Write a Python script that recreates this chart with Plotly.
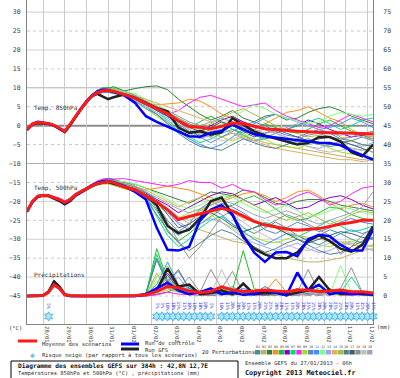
import plotly.graph_objects as go
import pandas as pd

# ---------------- DATA ----------------
BASE_RUN = "2013-01-27 06:00"
FORECAST_HOURS = [0, 6, 12, 18, 24, 30, 36, 42, 48, 54, 60, 66, 72, 78, 84, 90, 96,
                  108, 120, 132, 144, 156, 168, 180, 192, 204, 216, 228, 240, 252, 264,
                  276, 288, 300, 312, 324, 336, 348, 360, 372, 384]

DATE_TICKS = ["2013-01-28", "2013-01-29", "2013-01-30", "2013-01-31", "2013-02-01",
              "2013-02-02", "2013-02-03", "2013-02-04", "2013-02-05", "2013-02-06",
              "2013-02-07", "2013-02-08", "2013-02-09", "2013-02-10", "2013-02-11",
              "2013-02-12"]
DATE_LABELS = ["28/01", "29/01", "30/01", "31/01", "01/02", "02/02", "03/02", "04/02",
               "05/02", "06/02", "07/02", "08/02", "09/02", "10/02", "11/02", "12/02"]

TEMP_TICKS = [-45, -40, -35, -30, -25, -20, -15, -10, -5, 0, 5, 10, 15, 20, 25, 30]
MM_TICKS = [0, 5, 10, 15, 20, 25, 30, 35, 40, 45, 50, 55, 60, 65, 70, 75]

# Mean / control / GFS - temperature 850 hPa (degC)
T850_MEAN = [-1.0, 0.4, 0.9, 0.8, 0.6, 0.1, -0.7, -1.5, 0.4, 2.6, 4.5, 6.3, 7.8, 8.7, 9.2, 9.3, 9.1,
             8.2, 7.2, 5.8, 4.6, 3.2, 1.3, -0.2, -0.4, -0.8, -0.2, 0.7, 0.5, -0.2, -0.8, -1.0,
             -1.3, -1.5, -1.6, -1.8, -1.9, -1.9, -2.0, -2.0, -2.2]
T850_CONTROL = [-1.0, 0.5, 1.0, 0.8, 0.5, 0.0, -0.8, -1.6, 0.3, 2.5, 4.6, 6.5, 8.0, 9.0, 9.5, 9.4, 9.0,
                8.0, 6.0, 2.5, 1.0, -0.3, -1.5, -2.8, -2.9, -1.9, -1.4, 0.3, -1.0, -2.2, -2.8, -3.1,
                -3.4, -3.8, -4.1, -4.5, -4.6, -5.2, -6.6, -7.8, -9.0]
T850_GFS = [-1.2, 0.3, 0.6, 0.6, 0.5, 0.0, -0.9, -1.7, 0.2, 2.4, 4.3, 6.2, 7.8, 8.4, 7.6, 7.0, 7.5,
            8.2, 7.3, 6.0, 4.6, 3.8, -0.5, -1.9, -1.5, -2.4, -1.8, 2.0, 0.3, -1.5, -2.6, -3.4,
            -4.2, -5.0, -4.6, -3.0, -3.0, -4.2, -7.0, -8.1, -5.0]

# Temperature 500 hPa (degC)
T500_MEAN = [-22.6, -20.0, -18.6, -18.4, -18.5, -18.9, -19.5, -20.3, -19.5, -18.2, -17.4, -16.6, -15.9,
             -15.3, -14.9, -14.7, -15.0,
             -16.2, -17.0, -18.5, -20.2, -22.2, -24.8, -24.0, -23.3, -22.6, -21.8, -22.5, -24.0,
             -25.3, -26.2, -26.8, -27.3, -27.6, -27.5, -27.2, -26.6, -26.0, -25.6, -25.0, -25.0]
T500_CONTROL = [-22.6, -20.1, -18.7, -18.4, -18.5, -19.0, -19.6, -20.5, -19.6, -18.3, -17.4, -16.6, -15.8,
                -15.1, -14.7, -14.6, -14.9,
                -16.0, -17.5, -19.5, -27.0, -32.8, -33.0, -32.0, -25.0, -22.2, -21.0, -23.5, -29.0,
                -33.5, -36.0, -33.5, -33.4, -34.5, -30.0, -28.8, -29.2, -31.5, -33.0, -33.0, -27.5]
T500_GFS = [-22.8, -20.2, -18.8, -18.5, -18.6, -19.2, -19.9, -20.8, -19.9, -18.5, -17.6, -16.8, -16.0,
            -15.4, -15.0, -14.9, -15.3,
            -16.3, -17.0, -18.5, -21.0, -26.5, -28.4, -27.5, -24.5, -20.0, -19.0, -23.5, -29.5,
            -32.5, -34.0, -35.0, -35.0, -33.5, -30.5, -29.0, -30.5, -32.5, -33.3, -31.5, -26.6]

# Precipitation (mm)
PRECIP_MEAN = [0, 0, 0, 0.1, 1.0, 3.0, 2.0, 0.3, 0.1, 0, 0, 0, 0, 0, 0, 0, 0,
               0, 0.1, 0.3, 1.2, 2.5, 2.2, 1.3, 0.9, 1.2, 2.4, 1.6, 1.2, 1.3, 1.6, 1.3, 1.1,
               1.6, 1.6, 1.2, 1.3, 1.6, 1.1, 1.1, 0.8]
PRECIP_CONTROL = [0, 0, 0, 0.1, 1.0, 3.2, 2.0, 0.3, 0, 0, 0, 0, 0, 0, 0, 0, 0,
                  0, 0, 0.5, 2.0, 3.5, 1.5, 0.5, 1.0, 2.0, 0.5, 1.0, 0.3, 0.5, 1.5, 0.8, 0.2,
                  6.2, 1.5, 3.0, 0.5, 1.0, 0.5, 0.8, 0.3]
PRECIP_GFS = [0, 0, 0, 0.2, 1.2, 3.8, 2.5, 0.4, 0, 0, 0, 0, 0, 0, 0, 0, 0,
              0, 0, 0.3, 1.5, 7.3, 2.5, 3.0, 0.5, 0.8, 1.5, 0.5, 3.3, 0.5, 0.8, 1.0, 0.3,
              1.0, 1.5, 5.0, 1.5, 0.5, 0.8, 0.5, 0.3]

# 20 perturbations
T850_PERTURBATIONS = [
    [-1.0, 0.5, 1.0, 0.9, 0.5, 0.0, -0.8, -1.6, 0.2, 2.4, 4.4, 6.5, 8.1, 9.2, 9.8, 9.6, 9.0,
     8.5, 7.5, 6.0, 4.0, 2.5, 0.5, -1.5, -2.5, -3.0, -1.0, 0.5, -1.5, -2.5, -3.5, -3.0, -4.0, -4.5, -4.0, -5.0, -5.5, -5.0, -6.0, -6.5, -6.0],
    [-1.0, 0.3, 0.8, 0.7, 0.6, 0.2, -0.6, -1.3, 0.6, 2.8, 4.7, 6.2, 7.5, 8.4, 8.9, 9.0, 8.6,
     8.0, 7.0, 5.5, 4.5, 3.0, 1.5, 0.5, -1.0, -2.0, -3.0, -2.0, -2.5, -3.5, -4.5, -5.0, -5.5, -6.0, -6.5, -7.0, -7.5, -8.0, -8.5, -9.0, -8.5],
    [-1.0, 0.4, 0.9, 0.9, 0.7, 0.2, -0.5, -1.4, 0.5, 2.7, 4.6, 6.4, 7.9, 8.9, 9.5, 9.9, 10.3,
     9.2, 9.8, 10.3, 10.5, 9.5, 7.0, 5.0, 3.0, 1.5, 2.5, 4.0, 2.0, 1.0, 2.5, 3.0, 1.5, 2.0, 3.5, 4.5, 5.0, 4.0, 2.5, 1.5, 0.5],
    [-1.0, 0.4, 1.0, 0.8, 0.6, 0.1, -0.7, -1.5, 0.3, 2.5, 4.3, 6.0, 7.6, 8.6, 9.1, 9.0, 8.8,
     8.0, 7.0, 6.0, 5.5, 5.8, 6.0, 7.0, 6.5, 5.0, 3.0, 2.0, 1.0, -0.5, 0.5, 2.0, 3.5, 4.0, 5.0, 3.5, 2.0, 1.0, -1.0, -2.5, -3.0],
    [-1.0, 0.5, 0.9, 0.7, 0.5, 0.0, -0.9, -1.7, 0.2, 2.6, 4.6, 6.6, 8.2, 9.3, 9.9, 10.1, 9.9,
     9.0, 8.0, 6.5, 5.0, 3.5, 1.5, -0.5, 1.0, 2.5, 1.0, -1.0, -2.0, -1.0, 0.5, -0.5, -1.5, -2.0, -1.0, 0.5, 1.5, 0.0, -1.5, -2.5, -3.5],
    [-1.0, 0.3, 0.8, 0.8, 0.7, 0.3, -0.5, -1.2, 0.7, 2.9, 4.8, 6.5, 7.9, 8.8, 9.4, 9.5, 9.2,
     8.5, 7.5, 6.0, 4.5, 2.5, 0.0, -2.0, -1.5, 0.0, 1.5, 2.5, 1.0, 0.0, -1.0, -2.0, -1.0, 0.0, 1.5, 0.5, -1.0, -2.0, -3.0, -2.5, -2.0],
    [-1.0, 0.4, 0.9, 0.8, 0.6, 0.1, -0.6, -1.5, 0.4, 2.6, 4.4, 6.1, 7.6, 8.5, 9.0, 8.9, 8.5,
     8.0, 6.5, 5.0, 3.5, 1.5, -1.0, -3.0, -4.5, -3.5, -2.0, -1.0, -2.5, -4.0, -3.5, -2.0, -1.0, 0.0, 1.0, 2.0, 0.5, -1.0, 0.0, 1.5, 2.0],
    [-1.0, 0.5, 1.0, 0.9, 0.6, 0.0, -0.8, -1.6, 0.3, 2.5, 4.5, 6.4, 8.0, 9.1, 9.7, 9.8, 9.6,
     8.5, 7.5, 6.0, 4.0, 3.0, 4.0, 6.0, 7.5, 8.0, 7.0, 6.0, 5.0, 5.5, 6.0, 4.0, 2.5, 1.5, 0.5, -0.5, 0.0, 1.5, 3.0, 2.0, 1.0],
    [-1.0, 0.4, 0.8, 0.7, 0.5, 0.1, -0.7, -1.4, 0.5, 2.7, 4.5, 6.2, 7.7, 8.6, 9.0, 9.1, 8.9,
     7.8, 6.5, 4.5, 2.5, 0.5, -1.5, -3.0, -2.0, -1.5, -3.0, -4.0, -3.0, -2.0, -3.5, -5.0, -5.5, -6.0, -5.0, -4.5, -6.0, -7.0, -7.5, -8.0, -8.5],
    [-1.0, 0.3, 0.9, 0.8, 0.6, 0.2, -0.6, -1.4, 0.4, 2.6, 4.7, 6.6, 8.2, 9.4, 10.0, 9.8, 9.4,
     9.2, 8.0, 6.0, 4.5, 3.0, 1.0, -1.0, -3.0, -4.5, -3.0, -1.5, 0.0, 1.0, 0.0, -1.5, -2.5, -3.0, -2.0, -1.0, -2.0, -3.5, -4.0, -3.0, -4.0],
    [-1.0, 0.4, 0.9, 0.9, 0.7, 0.1, -0.7, -1.6, 0.3, 2.4, 4.3, 6.1, 7.5, 8.3, 8.7, 8.8, 8.5,
     8.0, 6.5, 4.5, 3.0, 1.0, -1.5, -3.5, -5.0, -6.0, -5.0, -3.0, -1.0, 0.5, 2.0, 3.0, 2.0, 1.0, 0.0, -1.0, -0.5, 0.5, 2.0, 1.0, -0.5],
    [-1.0, 0.5, 0.9, 0.8, 0.5, 0.0, -0.8, -1.5, 0.5, 2.8, 4.7, 6.4, 7.9, 8.9, 9.4, 9.5, 9.7,
     9.0, 8.5, 7.0, 5.5, 4.0, 2.5, 1.0, 0.0, -1.0, 0.5, 2.0, 4.0, 5.5, 4.5, 3.0, 2.0, 1.0, 0.5, 1.0, 2.5, 3.5, 3.0, 2.5, 3.0],
    [-1.0, 0.4, 1.0, 0.8, 0.6, 0.1, -0.7, -1.6, 0.3, 2.5, 4.4, 6.3, 7.8, 8.7, 9.1, 9.2, 9.0,
     8.3, 7.0, 5.5, 4.0, 2.0, 0.0, -2.0, -3.5, -2.5, -1.0, -2.0, -3.5, -4.0, -3.0, -2.0, -3.0, -4.5, -5.5, -6.0, -5.0, -4.0, -5.0, -5.5, -4.5],
    [-1.0, 0.3, 0.8, 0.8, 0.6, 0.2, -0.6, -1.3, 0.6, 2.7, 4.6, 6.3, 7.7, 8.5, 9.0, 9.2, 9.3,
     8.8, 8.0, 7.0, 6.0, 5.0, 4.0, 3.0, 2.0, 1.0, -0.5, -2.0, -3.0, -4.0, -5.0, -6.0, -6.5, -7.0, -7.5, -8.0, -8.5, -9.0, -9.0, -9.5, -9.0],
    [-1.0, 0.4, 0.9, 0.7, 0.5, 0.0, -0.8, -1.7, 0.2, 2.5, 4.5, 6.4, 8.0, 9.0, 9.6, 9.7, 9.5,
     8.5, 7.5, 6.5, 5.0, 3.5, 2.0, 0.0, -1.0, 0.5, 2.0, 3.5, 4.5, 3.0, 1.5, 0.0, -1.0, -2.0, -3.0, -2.5, -1.5, -3.0, -4.0, -5.0, -5.5],
    [-1.0, 0.5, 0.9, 0.8, 0.6, 0.1, -0.7, -1.5, 0.4, 2.6, 4.4, 6.2, 7.7, 8.7, 9.3, 9.3, 8.9,
     8.2, 7.0, 5.0, 3.0, 0.5, -2.0, -4.0, -5.5, -6.0, -6.5, -5.0, -3.5, -4.5, -5.5, -6.0, -5.0, -4.0, -3.5, -4.5, -5.0, -4.5, -4.0, -5.0, -5.5],
    [-1.0, 0.4, 0.8, 0.8, 0.7, 0.2, -0.5, -1.4, 0.5, 2.7, 4.6, 6.3, 7.8, 8.8, 9.2, 9.0, 8.7,
     8.0, 7.0, 5.5, 4.0, 2.5, 1.0, -0.5, -1.5, -0.5, 1.0, 0.0, -1.5, -3.0, -2.0, -1.0, -2.0, -3.0, -4.0, -3.5, -3.0, -4.0, -5.0, -6.0, -7.0],
    [-1.0, 0.4, 0.9, 0.8, 0.6, 0.1, -0.7, -1.5, 0.4, 2.5, 4.5, 6.4, 7.9, 8.8, 9.3, 9.4, 9.2,
     8.6, 7.8, 6.5, 5.0, 3.5, 2.0, 0.5, -0.5, -1.5, -1.0, 0.0, -0.5, -1.5, -2.5, -3.5, -4.0, -3.5, -2.5, -2.0, -3.0, -3.5, -3.0, -2.0, -1.5],
    [-1.0, 0.3, 0.9, 0.9, 0.6, 0.1, -0.6, -1.5, 0.5, 2.6, 4.4, 6.2, 7.6, 8.6, 9.1, 9.3, 9.1,
     8.0, 6.8, 5.0, 3.5, 2.0, 0.5, -1.0, -2.0, -3.0, -4.0, -3.5, -2.5, -1.5, -1.0, -2.0, -3.5, -4.5, -5.5, -6.5, -7.0, -6.5, -6.0, -6.5, -7.0],
    [-1.0, 0.5, 1.0, 0.8, 0.5, 0.0, -0.8, -1.6, 0.3, 2.6, 4.6, 6.5, 8.0, 9.0, 9.5, 9.4, 9.1,
     8.4, 7.4, 6.2, 5.2, 4.0, 2.5, 1.0, 0.0, 1.0, 2.0, 1.0, 0.0, -1.0, -2.0, -1.5, -0.5, 0.5, 0.0, -1.0, -2.0, -2.5, -2.0, -3.0, -3.5],
]

T500_PERTURBATIONS = [
    [-22.6, -20.1, -18.7, -18.3, -18.4, -19.0, -19.8, -20.6, -19.8, -18.5, -17.6, -16.8, -16.0, -15.2, -14.6, -14.2, -14.4,
     -15.5, -16.5, -18.0, -21.0, -25.0, -28.0, -26.0, -22.0, -20.0, -21.5, -24.0, -27.0, -28.5, -27.0, -25.5, -27.0, -29.0, -30.5, -29.0, -27.5, -28.5, -30.0, -31.0, -29.5],
    [-22.6, -19.9, -18.5, -18.5, -18.7, -19.1, -19.4, -20.0, -19.2, -18.0, -17.2, -16.5, -16.0, -15.6, -15.3, -15.4, -15.8,
     -16.5, -17.5, -19.0, -20.5, -22.0, -24.0, -26.0, -27.5, -28.5, -29.5, -30.5, -31.0, -32.0, -33.5, -34.0, -35.0, -35.5, -36.0, -36.0, -35.5, -35.0, -34.0, -33.0, -32.5],
    [-22.6, -20.0, -18.4, -18.2, -18.3, -18.7, -19.3, -20.4, -19.7, -18.3, -17.3, -16.3, -15.5, -14.8, -14.3, -14.0, -14.2,
     -15.0, -15.5, -16.5, -17.5, -18.5, -19.5, -20.5, -19.0, -17.5, -18.0, -18.5, -17.0, -17.5, -19.0, -20.5, -21.0, -20.0, -19.5, -19.5, -20.0, -21.0, -21.5, -22.0, -22.5],
    [-22.6, -20.2, -18.8, -18.6, -18.6, -18.8, -19.6, -20.2, -19.3, -18.1, -17.5, -16.9, -16.2, -15.5, -15.0, -14.8, -14.9,
     -15.8, -16.5, -17.0, -16.5, -16.0, -16.5, -17.0, -18.0, -19.0, -20.0, -19.0, -18.0, -17.5, -18.5, -20.0, -19.0, -17.5, -17.0, -18.5, -20.5, -22.0, -21.0, -20.5, -21.5],
    [-22.6, -19.8, -18.6, -18.4, -18.4, -19.0, -19.7, -20.8, -20.0, -18.6, -17.6, -16.6, -15.6, -14.9, -14.5, -14.6, -15.2,
     -14.8, -16.0, -18.0, -22.0, -28.0, -30.5, -28.5, -26.0, -24.0, -22.0, -21.0, -19.5, -18.5, -20.0, -22.0, -24.0, -25.0, -24.5, -23.0, -21.5, -22.0, -23.5, -24.5, -25.0],
    [-22.6, -20.0, -18.7, -18.5, -18.6, -18.8, -19.2, -19.9, -19.1, -17.9, -17.1, -16.4, -15.8, -15.3, -15.0, -15.1, -15.5,
     -16.0, -16.8, -18.0, -19.5, -21.0, -23.0, -21.5, -20.0, -18.5, -17.5, -18.0, -19.5, -21.0, -20.0, -19.0, -20.5, -22.0, -21.5, -20.0, -19.0, -18.5, -19.5, -21.0, -22.0],
    [-22.6, -20.1, -18.6, -18.3, -18.5, -19.1, -19.6, -20.4, -19.6, -18.4, -17.5, -16.7, -15.9, -15.2, -14.7, -14.5, -14.9,
     -15.5, -16.5, -18.5, -24.0, -29.0, -32.0, -30.0, -27.0, -25.0, -24.0, -26.0, -28.0, -27.0, -25.5, -26.5, -28.5, -29.5, -28.0, -26.5, -25.0, -26.5, -28.0, -27.5, -26.5],
    [-22.6, -19.9, -18.5, -18.4, -18.5, -18.9, -19.5, -20.2, -19.4, -18.1, -17.2, -16.2, -15.3, -14.6, -14.1, -13.9, -14.1,
     -14.0, -14.5, -15.0, -15.5, -16.0, -15.5, -14.5, -15.0, -15.0, -16.5, -15.5, -17.0, -17.5, -19.5, -21.0, -20.0, -18.5, -17.5, -19.0, -21.0, -20.0, -18.0, -16.5, -16.0],
    [-22.6, -20.0, -18.6, -18.5, -18.6, -19.0, -19.6, -20.5, -19.7, -18.4, -17.6, -16.9, -16.2, -15.7, -15.4, -15.3, -15.6,
     -16.5, -17.5, -19.0, -21.0, -23.0, -24.5, -23.0, -22.0, -23.5, -25.5, -27.0, -28.5, -29.5, -30.5, -31.0, -30.0, -29.0, -30.0, -31.5, -32.0, -31.0, -30.5, -31.5, -32.0],
    [-22.6, -20.1, -18.7, -18.4, -18.4, -18.8, -19.4, -20.1, -19.3, -18.0, -17.1, -16.3, -15.5, -14.8, -14.3, -14.1, -14.4,
     -15.0, -16.0, -17.5, -19.5, -22.5, -26.0, -27.5, -25.5, -22.0, -20.5, -21.5, -23.0, -25.0, -27.5, -28.5, -27.0, -25.5, -26.5, -28.0, -27.0, -25.5, -24.5, -25.5, -26.0],
    [-22.6, -19.9, -18.5, -18.3, -18.5, -19.0, -19.7, -20.6, -19.9, -18.6, -17.7, -16.9, -16.1, -15.4, -15.0, -14.9, -15.3,
     -16.0, -17.0, -19.0, -22.5, -26.5, -29.0, -27.0, -24.5, -22.0, -23.5, -26.0, -28.0, -30.0, -31.5, -30.0, -28.5, -29.0, -30.5, -31.5, -30.0, -28.5, -27.5, -28.5, -27.5],
    [-22.6, -20.0, -18.6, -18.4, -18.4, -18.8, -19.3, -20.0, -19.2, -18.0, -17.3, -16.5, -15.7, -15.0, -14.6, -14.4, -14.6,
     -14.8, -15.5, -16.5, -18.0, -19.5, -21.0, -22.0, -21.0, -19.5, -18.5, -19.0, -20.5, -22.0, -23.0, -22.0, -21.0, -22.5, -24.0, -23.5, -22.5, -21.5, -22.0, -23.0, -23.5],
    [-22.6, -20.0, -18.7, -18.6, -18.7, -19.1, -19.7, -20.5, -19.6, -18.3, -17.5, -16.8, -16.1, -15.5, -15.1, -15.0, -15.3,
     -15.8, -16.8, -18.5, -20.5, -23.0, -25.5, -27.0, -26.0, -24.5, -25.5, -27.5, -29.5, -31.0, -32.0, -33.0, -32.0, -31.0, -32.5, -33.5, -33.0, -31.5, -31.0, -32.0, -33.0],
    [-22.6, -20.1, -18.6, -18.3, -18.4, -18.8, -19.4, -20.2, -19.5, -18.2, -17.3, -16.5, -15.8, -15.1, -14.7, -14.6, -15.0,
     -15.2, -16.0, -17.0, -18.5, -20.0, -21.5, -20.0, -19.0, -20.0, -21.5, -23.0, -24.5, -25.5, -26.5, -27.0, -28.0, -29.0, -29.5, -30.0, -30.5, -31.0, -31.5, -32.0, -31.5],
    [-22.6, -19.9, -18.5, -18.4, -18.6, -19.0, -19.6, -20.4, -19.7, -18.5, -17.6, -16.7, -15.9, -15.2, -14.8, -14.7, -15.1,
     -15.5, -16.5, -18.0, -20.0, -22.5, -25.0, -24.0, -22.5, -21.0, -19.5, -18.5, -19.5, -21.0, -22.5, -24.0, -25.0, -24.0, -23.0, -24.5, -26.0, -25.0, -23.5, -22.5, -23.0],
    [-22.6, -20.0, -18.6, -18.5, -18.5, -18.9, -19.5, -20.3, -19.4, -18.1, -17.3, -16.6, -16.0, -15.4, -15.1, -15.0, -15.4,
     -16.2, -17.2, -19.5, -23.5, -27.5, -31.0, -33.0, -31.0, -29.0, -27.5, -28.5, -30.5, -32.0, -33.5, -32.5, -31.0, -30.0, -31.5, -33.0, -34.0, -33.5, -32.0, -30.5, -29.5],
    [-22.6, -20.0, -18.7, -18.4, -18.4, -18.9, -19.6, -20.2, -19.5, -18.3, -17.4, -16.6, -15.8, -15.1, -14.7, -14.6, -14.8,
     -15.5, -16.3, -17.8, -20.0, -23.5, -27.0, -26.0, -24.0, -23.0, -24.5, -26.5, -28.0, -27.0, -26.0, -27.0, -28.5, -30.0, -31.0, -30.0, -29.0, -28.0, -28.5, -29.5, -30.0],
    [-22.6, -20.1, -18.6, -18.3, -18.5, -19.0, -19.5, -20.3, -19.6, -18.2, -17.3, -16.4, -15.7, -15.1, -14.8, -14.8, -15.2,
     -15.7, -16.5, -18.0, -21.0, -25.5, -30.5, -35.0, -32.0, -28.0, -24.0, -22.5, -23.5, -25.0, -26.5, -25.0, -23.5, -24.5, -26.0, -27.5, -29.0, -34.0, -32.0, -29.0, -27.0],
    [-22.6, -19.9, -18.5, -18.5, -18.6, -18.9, -19.4, -20.1, -19.3, -18.1, -17.4, -16.7, -16.0, -15.4, -15.1, -15.1, -15.5,
     -16.0, -16.8, -18.2, -20.5, -22.5, -24.0, -25.0, -24.0, -23.0, -22.0, -23.5, -25.5, -27.5, -29.0, -30.5, -31.5, -32.5, -33.0, -32.0, -31.0, -30.5, -31.0, -32.0, -31.5],
    [-22.6, -20.0, -18.6, -18.4, -18.5, -18.9, -19.5, -20.4, -19.6, -18.3, -17.5, -16.6, -15.8, -15.1, -14.6, -14.5, -14.8,
     -15.6, -16.4, -17.5, -19.0, -20.5, -22.0, -23.0, -22.0, -21.0, -20.0, -20.5, -22.0, -23.5, -24.5, -23.5, -22.5, -23.5, -25.0, -26.0, -25.0, -24.0, -23.0, -21.5, -17.5],
]

PRECIP_PERTURBATIONS = [
    [0, 0, 0, 0.1, 1.2, 3.0, 2.2, 0.5, 0, 0, 0, 0, 0, 0, 0, 0, 0,
     0, 0, 0.5, 9.5, 3.0, 1.0, 2.0, 0.5, 0.3, 1.0, 2.5, 0.5, 0.3, 1.5, 0.5, 0, 0.5, 1.5, 0.5, 0.3, 1.0, 0.5, 0.3, 0],
    [0, 0, 0, 0.2, 0.8, 2.5, 1.8, 0.4, 0, 0, 0, 0, 0, 0, 0, 0, 0,
     0, 0, 0.2, 1.5, 5.0, 2.0, 0.5, 0.3, 0.5, 1.5, 0.5, 0.3, 1.0, 0.5, 0.3, 0.5, 0.3, 0.5, 1.0, 0.5, 0.3, 0.5, 0.8, 0.3],
    [0, 0, 0, 0, 1.0, 3.5, 2.5, 0.6, 0, 0, 0, 0, 0, 0, 0, 0, 0,
     0, 0, 0, 0.5, 1.0, 2.5, 1.0, 0.3, 0.2, 0.5, 0.3, 1.5, 0.5, 0.2, 0.3, 0.5, 1.0, 0.5, 0.3, 0.5, 1.5, 0.5, 0.3, 0.2],
    [0, 0, 0, 0.1, 1.1, 2.8, 2.0, 0.4, 0, 0, 0, 0, 0, 0, 0, 0, 0,
     0, 0, 0.3, 1.0, 3.0, 1.5, 0.5, 0.3, 0.5, 1.0, 0.5, 0.3, 0.5, 1.0, 4.5, 1.0, 0.5, 0.3, 0.5, 1.5, 0.5, 0.3, 0.5, 0.3],
    [0, 0, 0, 0.2, 1.5, 4.2, 2.8, 0.5, 0, 0, 0, 0, 0, 0, 0, 0, 0,
     0, 0, 0.5, 12.5, 4.0, 2.0, 1.0, 0.5, 0.3, 0.5, 1.5, 12.0, 2.0, 1.0, 0.5, 0.3, 0.5, 1.0, 0.5, 2.0, 0.5, 0.3, 0.5, 0.3],
    [0, 0, 0, 0, 0.9, 3.1, 2.1, 0.4, 0, 0, 0, 0, 0, 0, 0, 0, 0,
     0, 0, 0.2, 2.0, 6.0, 2.5, 1.0, 0.5, 0.2, 0.5, 1.0, 0.3, 0.5, 0.5, 0.3, 1.0, 0.5, 0.3, 0.5, 1.0, 0.3, 0.2, 0.5, 0.3],
    [0, 0, 0, 0.1, 1.3, 3.6, 2.4, 0.5, 0, 0, 0, 0, 0, 0, 0, 0, 0,
     0, 0, 0.8, 11.0, 3.5, 1.0, 2.5, 1.0, 0.5, 1.0, 2.0, 1.0, 0.5, 1.5, 0.8, 0.3, 1.5, 0.5, 0.3, 0.5, 1.0, 5.0, 1.0, 0.5],
    [0, 0, 0, 0, 0.8, 2.6, 1.9, 0.3, 0, 0, 0, 0, 0, 0, 0, 0, 0,
     0, 0, 0, 0.3, 1.0, 0.5, 0.3, 0.2, 0.3, 0.5, 0.3, 0.5, 0.3, 0.2, 0.5, 0.3, 0.2, 0.5, 0.3, 0.5, 0.3, 0.2, 0.3, 0.2],
    [0, 0, 0, 0.1, 1.0, 3.3, 2.3, 0.5, 0, 0, 0, 0, 0, 0, 0, 0, 0,
     0, 0, 0.4, 5.0, 8.0, 2.0, 1.0, 0.5, 1.0, 2.0, 1.0, 0.5, 0.5, 1.0, 0.5, 0.3, 0.5, 1.0, 2.0, 0.5, 0.3, 1.0, 0.5, 0.3],
    [0, 0, 0, 0.2, 1.2, 3.4, 2.6, 0.6, 0, 0, 0, 0, 0, 0, 0, 0, 0,
     0, 0, 0.3, 1.5, 4.0, 6.5, 2.0, 1.0, 0.5, 0.3, 0.5, 1.0, 0.5, 2.5, 1.0, 0.5, 0.3, 1.0, 0.5, 0.3, 0.5, 0.3, 0.5, 0.3],
    [0, 0, 0, 0.1, 0.9, 2.9, 2.0, 0.4, 0, 0, 0, 0, 0, 0, 0, 0, 0,
     0, 0, 0.5, 3.0, 9.0, 3.0, 1.5, 0.5, 0.3, 1.0, 0.5, 2.0, 1.0, 0.5, 0.3, 1.0, 0.5, 0.3, 0.5, 1.0, 0.5, 0.3, 1.0, 0.5],
    [0, 0, 0, 0.2, 1.4, 3.9, 2.7, 0.5, 0, 0, 0, 0, 0, 0, 0, 0, 0,
     0, 0, 0.2, 4.0, 2.0, 1.0, 0.5, 0.3, 0.5, 1.0, 0.5, 0.3, 2.0, 0.5, 0.3, 0.5, 0.3, 0.5, 1.0, 0.5, 8.0, 1.0, 0.5, 0.3],
    [0, 0, 0, 0.1, 1.0, 3.0, 2.2, 0.4, 0, 0, 0, 0, 0, 0, 0, 0, 0,
     0, 0, 0.3, 1.0, 2.5, 5.0, 1.5, 0.5, 0.3, 0.5, 1.0, 0.5, 0.3, 1.0, 0.5, 0.3, 0.5, 1.5, 0.5, 0.3, 0.5, 1.0, 0.5, 0.3],
    [0, 0, 0, 0, 1.1, 3.2, 2.3, 0.5, 0, 0, 0, 0, 0, 0, 0, 0, 0,
     0, 0, 0.2, 0.8, 1.5, 3.0, 1.0, 0.5, 0.3, 0.5, 0.3, 0.5, 1.0, 0.5, 0.3, 0.5, 1.0, 0.5, 0.3, 0.5, 0.3, 0.5, 1.0, 0.5],
    [0, 0, 0, 0.1, 1.3, 3.5, 2.4, 0.4, 0, 0, 0, 0, 0, 0, 0, 0, 0,
     0, 0, 0.4, 6.0, 2.0, 1.0, 0.5, 1.5, 0.5, 0.3, 1.0, 0.5, 0.3, 0.5, 1.0, 0.3, 0.5, 0.3, 1.0, 0.5, 0.3, 0.5, 0.3, 0.3],
    [0, 0, 0, 0.2, 1.2, 3.3, 2.5, 0.6, 0, 0, 0, 0, 0, 0, 0, 0, 0,
     0, 0, 0.6, 10.0, 3.5, 7.0, 2.0, 1.0, 0.5, 1.0, 0.5, 1.5, 0.5, 0.3, 1.0, 0.5, 0.3, 1.0, 0.5, 0.3, 1.0, 0.5, 0.3, 0.5],
    [0, 0, 0, 0.1, 1.0, 3.1, 2.1, 0.4, 0, 0, 0, 0, 0, 0, 0, 0, 0,
     0, 0, 0.3, 2.0, 5.5, 2.0, 1.0, 0.5, 1.0, 0.5, 0.3, 0.5, 1.0, 0.5, 0.3, 0.5, 2.0, 0.5, 0.3, 0.5, 1.0, 0.3, 0.5, 0.3],
    [0, 0, 0, 0.2, 1.3, 3.7, 2.6, 0.5, 0, 0, 0, 0, 0, 0, 0, 0, 0,
     0, 0, 0.2, 1.0, 3.0, 2.0, 5.0, 1.0, 7.0, 2.0, 6.5, 1.0, 0.5, 2.5, 1.0, 0.5, 1.0, 7.0, 1.0, 0.5, 2.0, 7.5, 1.0, 0.5],
    [0, 0, 0, 0.1, 0.9, 2.7, 1.9, 0.4, 0, 0, 0, 0, 0, 0, 0, 0, 0,
     0, 0, 0.2, 1.5, 3.5, 1.5, 0.5, 0.3, 0.5, 7.0, 1.0, 0.5, 0.3, 1.0, 0.5, 0.3, 0.5, 1.0, 0.5, 0.3, 0.5, 1.0, 0.5, 0.3],
    [0, 0, 0, 0.1, 1.1, 3.0, 2.2, 0.4, 0, 0, 0, 0, 0, 0, 0, 0, 0,
     0, 0, 0.3, 2.5, 4.5, 2.0, 1.0, 0.5, 0.3, 0.5, 1.0, 0.5, 0.3, 0.5, 1.0, 0.5, 0.3, 0.5, 0.3, 1.0, 0.5, 0.3, 0.5, 1.0],
]

PERTURBATION_LABELS = ["01", "02", "03", "04", "05", "06", "07", "08", "09", "10",
                       "11", "12", "13", "14", "15", "16", "17", "18", "19", "20"]

# Snow risk (percentage of all scenarios)
SNOW_HOURS = [24, 144, 150, 156, 162, 168, 174, 180, 186, 192, 198, 204,
              216, 222, 228, 234, 240, 246, 252, 258, 264, 270, 276, 282, 288, 294,
              300, 306, 312, 318, 324, 330, 336, 342, 348, 354, 360, 366, 372, 378, 384]
SNOW_PCT = [5, 5, 5, 10, 10, 15, 15, 10, 10, 10, 10, 5, 10, 15, 20, 20, 20, 15, 15, 20,
            25, 25, 20, 20, 15, 15, 20, 20, 25, 25, 20, 20, 20, 25, 25, 20, 20, 15, 15, 20, 15]

# ---------------- STYLE ----------------
PERT_COLORS = ["#4f8f8f", "#c0b060", "#308030", "#ff8c1a", "#20c020", "#8000c0", "#00e080",
               "#ff20ff", "#a0e020", "#6080d0", "#4090ff", "#80ff80", "#a0a0ff", "#e0b060",
               "#a0c040", "#508090", "#406070", "#909090", "#c0c0c0", "#a0a0c0"]
MEAN_COLOR = "#ff1a1a"
CONTROL_COLOR = "#0000ff"
GFS_COLOR = "#222222"
MONO = "DejaVu Sans Mono"
TXT = "#303030"

W, H = 400, 378
ML, MR, MT, MB = 27, 27, 0, 54
PW = W - ML - MR
PH = H - MT - MB

for name, arr in [("T850_MEAN", T850_MEAN), ("T850_CONTROL", T850_CONTROL), ("T850_GFS", T850_GFS),
                  ("T500_MEAN", T500_MEAN), ("T500_CONTROL", T500_CONTROL), ("T500_GFS", T500_GFS),
                  ("PRECIP_MEAN", PRECIP_MEAN), ("PRECIP_CONTROL", PRECIP_CONTROL), ("PRECIP_GFS", PRECIP_GFS)]:
    assert len(arr) == len(FORECAST_HOURS), (name, len(arr))
for k in range(20):
    for name, group in [("T850", T850_PERTURBATIONS), ("T500", T500_PERTURBATIONS), ("PR", PRECIP_PERTURBATIONS)]:
        assert len(group[k]) == len(FORECAST_HOURS), (name, k, len(group[k]))
assert len(SNOW_HOURS) == len(SNOW_PCT)


def px(x):
    return (x - ML) / PW


def py(y):
    return (MT + PH - y) / PH


base = pd.Timestamp(BASE_RUN)
times = [base + pd.Timedelta(hours=h) for h in FORECAST_HOURS]
snow_times = [base + pd.Timedelta(hours=h) for h in SNOW_HOURS]

fig = go.Figure()


def add_line(x, y, color, width, axis="y"):
    fig.add_trace(go.Scatter(x=x, y=y, mode="lines", yaxis=axis,
                             line=dict(color=color, width=width),
                             hoverinfo="skip", showlegend=False))


for k in range(20):
    add_line(times, T850_PERTURBATIONS[k], PERT_COLORS[k], 1)
    add_line(times, T500_PERTURBATIONS[k], PERT_COLORS[k], 1)
    add_line(times, PRECIP_PERTURBATIONS[k], PERT_COLORS[k], 1, "y2")

for series, color, width in [((T850_GFS, T500_GFS, PRECIP_GFS), GFS_COLOR, 2.5),
                             ((T850_CONTROL, T500_CONTROL, PRECIP_CONTROL), CONTROL_COLOR, 2.5),
                             ((T850_MEAN, T500_MEAN, PRECIP_MEAN), MEAN_COLOR, 3)]:
    add_line(times, series[0], color, width)
    add_line(times, series[1], color, width)
    add_line(times, series[2], color, width, "y2")

# Snow risk markers
SNOW_ROW = -50.4
SNOW_TEXT_ROW = -47.6
fig.add_trace(go.Scatter(x=snow_times, y=[SNOW_ROW] * len(snow_times), mode="markers",
                         marker=dict(symbol="hexagram", size=7, color="#a8e6fa",
                                     line=dict(color="#3aa8e0", width=0.8)),
                         cliponaxis=False, hoverinfo="skip", showlegend=False))

shapes = []
annotations = []

# Horizontal grid
for t in TEMP_TICKS:
    if t == 0:
        c, w, d = "#8c8c8c", 2, "solid"
    elif t in (10, -10):
        c, w, d = "#b0b0b0", 1, "solid"
    elif t % 10 == 0:
        c, w, d = "#cfcfcf", 1, "solid"
    else:
        c, w, d = "#c8c8c8", 1, "dot"
    shapes.append(dict(type="line", xref="paper", yref="y", x0=0, x1=1, y0=t, y1=t,
                       line=dict(color=c, width=w, dash=d), layer="below"))

for t, p in zip(snow_times, SNOW_PCT):
    annotations.append(dict(x=t, y=SNOW_TEXT_ROW, xref="x", yref="y", text=f"{p}%",
                            textangle=90, showarrow=False,
                            font=dict(family=MONO, size=4.5, color="#3838e8")))

# In-plot labels
for label, ypix in [("Temp. 850hPa", 108), ("Temp. 500hPa", 188), ("Précipitations", 275)]:
    annotations.append(dict(x=px(32), y=py(ypix), xref="paper", yref="paper", text=label,
                            xanchor="left", yanchor="middle", showarrow=False,
                            font=dict(family=MONO, size=6, color=TXT)))

annotations.append(dict(x=px(15), y=py(328), xref="paper", yref="paper", text="(°C)",
                        showarrow=False, xanchor="center", yanchor="middle",
                        font=dict(family=MONO, size=5.5, color=TXT)))
annotations.append(dict(x=px(383), y=py(327), xref="paper", yref="paper", text="(mm)",
                        showarrow=False, xanchor="center", yanchor="middle",
                        font=dict(family=MONO, size=5.5, color=TXT)))

# Legend
def hline(x0, x1, y, color, width):
    shapes.append(dict(type="line", xref="paper", yref="paper", x0=px(x0), x1=px(x1),
                       y0=py(y), y1=py(y), line=dict(color=color, width=width)))


def text(x, y, s, size=5.5, color=TXT, anchor="left"):
    annotations.append(dict(x=px(x), y=py(y), xref="paper", yref="paper", text=s,
                            xanchor=anchor, yanchor="middle", showarrow=False,
                            font=dict(family=MONO, size=size, color=color)))


hline(18, 37, 341, MEAN_COLOR, 3)
text(40, 344, "Moyenne des scénarios")
hline(121, 139, 344, CONTROL_COLOR, 3)
text(143, 343, "Run de contrôle")
hline(121, 139, 349, GFS_COLOR, 3)
text(143, 349.5, "Run GFS")
text(32, 355, "✱", size=8, color="#5ac0ea", anchor="center")
text(40, 355, "Risque neige (par rapport à tous les scénarios)")
text(200, 352, "20 Perturbations")

sq_w = (373 - 255) / 20
for k in range(20):
    x0 = 255 + k * sq_w
    shapes.append(dict(type="rect", xref="paper", yref="paper", x0=px(x0), x1=px(x0 + sq_w - 0.6),
                       y0=py(354.5), y1=py(350), line=dict(width=0), fillcolor=PERT_COLORS[k]))
    text(x0 + sq_w / 2, 347.3, PERTURBATION_LABELS[k], size=3.4, color="#404040", anchor="center")

shapes.append(dict(type="rect", xref="paper", yref="paper", x0=px(11), x1=px(238),
                   y0=py(380), y1=py(361), line=dict(color="#000000", width=1),
                   fillcolor="#ffffff"))
text(16, 366, "<b>Diagramme des ensembles GEFS sur 384h : 42,8N 12,7E</b>", size=6.2, color="#101010")
text(16, 373.2, "Températures 850hPa et 500hPa (°C) , précipitations (mm)", size=5.4, color=TXT)
text(243, 363, "Ensemble GEFS du 27/01/2013 - 06h", size=5.4, color=TXT)
text(243, 373.2, "<b>Copyright 2013 Meteociel.fr</b>", size=6.8, color="#101010")

fig.update_layout(
    width=W, height=H,
    margin=dict(l=ML, r=MR, t=MT, b=MB, pad=0, autoexpand=False),
    paper_bgcolor="#ffffff", plot_bgcolor="#ffffff",
    showlegend=False,
    shapes=shapes, annotations=annotations,
    xaxis=dict(type="date", range=[times[0], times[-1]], tickvals=DATE_TICKS, ticktext=DATE_LABELS,
               tickangle=90, tickfont=dict(family=MONO, size=5.5, color="#404040"),
               showgrid=True, gridcolor="#cccccc", gridwidth=1, zeroline=False, automargin=False,
               showline=True, linecolor="#808080", linewidth=1, ticks="", ticklabelshift=4,
               fixedrange=True),
    yaxis=dict(range=[-52.4, 33.2], tickvals=TEMP_TICKS, showgrid=False, zeroline=False,
               showline=True, linecolor="#808080", linewidth=1, ticks="", automargin=False,
               tickfont=dict(family=MONO, size=6.5, color="#404040"), ticklabelstandoff=4,
               fixedrange=True),
    yaxis2=dict(range=[-7.4, 78.2], tickvals=MM_TICKS, overlaying="y", side="right",
                showgrid=False, zeroline=False, showline=True, linecolor="#808080", linewidth=1,
                ticks="", tickfont=dict(family=MONO, size=6.5, color="#404040"), automargin=False,
                ticklabelstandoff=8, fixedrange=True),
)

fig.write_html("out.html", config={"displayModeBar": False},
               post_script="document.body.style.margin='0';document.body.style.overflow='hidden';")
